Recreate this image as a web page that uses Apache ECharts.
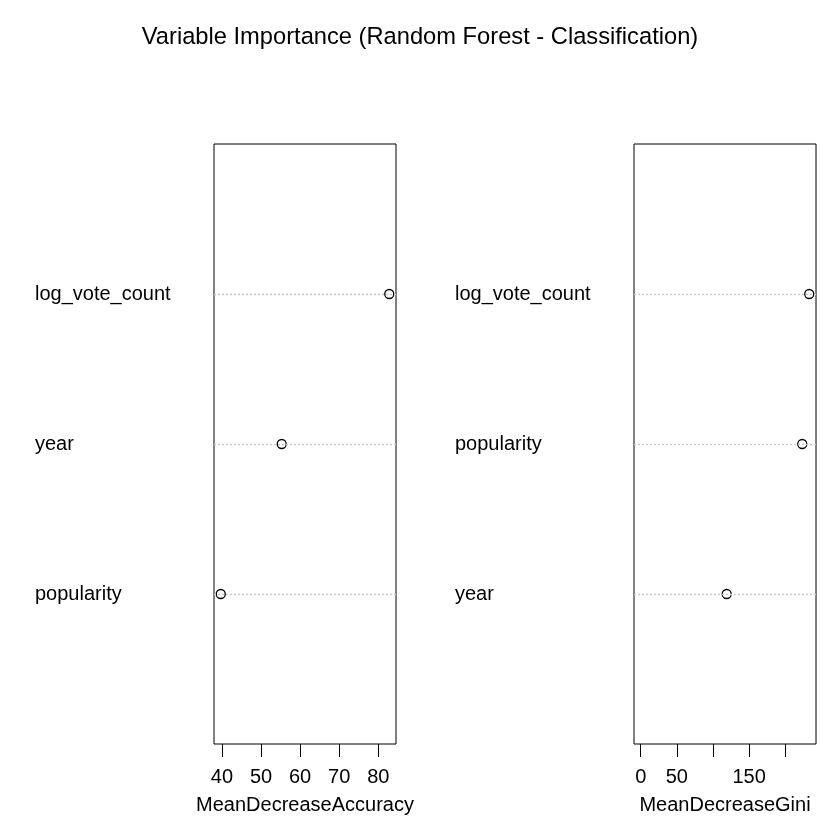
<!DOCTYPE html>
<html>
<head>
<meta charset="utf-8">
<script src="https://cdn.jsdelivr.net/npm/echarts@6/dist/echarts.min.js"></script>
<style>
  html, body { margin: 0; padding: 0; background: #fff; }
  #chart { width: 840px; height: 840px; }
</style>
</head>
<body>
<div id="chart"></div>
<script>
// values, bottom to top like R's dotchart
var accVars = ['popularity', 'year', 'log_vote_count'];
var accVals = [39.7, 55.3, 82.8];
var accTicks = [40, 50, 60, 70, 80];
var accLabels = [40, 50, 60, 70, 80];

var giniVars = ['year', 'popularity', 'log_vote_count'];
var giniVals = [119, 223.6, 233.3];
var giniTicks = [0, 50, 100, 150, 200];
var giniLabels = [0, 50, 150];

var FONT = 'Liberation Sans';

// R pads the data range by 4% on each side
function padRange(lo, hi) {
  var d = (hi - lo) * 0.04;
  return [lo - d, hi + d];
}
var accRange = padRange(Math.min.apply(null, accVals), Math.max.apply(null, accVals));
var giniRange = padRange(0, Math.max.apply(null, giniVals));

function xAxisFor(gridIndex, range, ticks, labels, name) {
  return {
    gridIndex: gridIndex,
    type: 'value',
    min: range[0],
    max: range[1],
    name: name,
    nameLocation: 'middle',
    nameGap: 51,
    nameTextStyle: { fontFamily: FONT, fontSize: 20, color: '#000' },
    axisLine: { show: false },
    axisTick: { show: true, inside: false, length: 13, customValues: ticks,
                lineStyle: { color: '#000', width: 1 } },
    axisLabel: { customValues: labels, margin: 23, fontFamily: FONT, fontSize: 20, color: '#000' },
    splitLine: { show: false }
  };
}

function yAxisFor(gridIndex, vars) {
  return {
    gridIndex: gridIndex,
    type: 'value',
    min: 0,
    max: 4,
    axisLine: { show: false },
    axisTick: { show: false },
    splitLine: { show: false },
    axisLabel: {
      customValues: [1, 2, 3],
      align: 'left',
      verticalAlign: 'middle',
      margin: 179,
      fontFamily: FONT,
      fontSize: 20,
      color: '#000',
      padding: [2, 0, 0, 0],
      formatter: function (v) { return vars[v - 1] || ''; }
    }
  };
}

function seriesFor(idx, vals) {
  return {
    type: 'scatter',
    xAxisIndex: idx,
    yAxisIndex: idx,
    symbol: 'circle',
    symbolSize: 9,
    itemStyle: { color: '#fff', borderColor: '#000', borderWidth: 1.3, opacity: 1 },
    data: vals.map(function (v, i) { return [v, i + 1]; }),
    z: 3,
    markLine: {
      silent: true,
      symbol: 'none',
      label: { show: false },
      lineStyle: { color: '#c8c8c8', type: [2, 2], width: 1.3 },
      data: vals.map(function (v, i) { return { yAxis: i + 1 }; }),
      animation: false
    }
  };
}

var chart = echarts.init(document.getElementById('chart'), null, { renderer: 'canvas' });
chart.setOption({
  animation: false,
  backgroundColor: '#fff',
  title: {
    text: 'Variable Importance (Random Forest - Classification)',
    left: 'center',
    top: 25,
    padding: 0,
    textStyle: { fontFamily: FONT, fontSize: 23.7, fontWeight: 'normal', color: '#000' }
  },
  grid: [
    { left: 214, top: 144, width: 182, height: 600, show: true,
      borderColor: '#000', borderWidth: 1, backgroundColor: 'transparent' },
    { left: 634, top: 144, width: 182, height: 600, show: true,
      borderColor: '#000', borderWidth: 1, backgroundColor: 'transparent' }
  ],
  xAxis: [
    xAxisFor(0, accRange, accTicks, accLabels, 'MeanDecreaseAccuracy'),
    xAxisFor(1, giniRange, giniTicks, giniLabels, 'MeanDecreaseGini')
  ],
  yAxis: [yAxisFor(0, accVars), yAxisFor(1, giniVars)],
  series: [seriesFor(0, accVals), seriesFor(1, giniVals)]
});
</script>
</body>
</html>
